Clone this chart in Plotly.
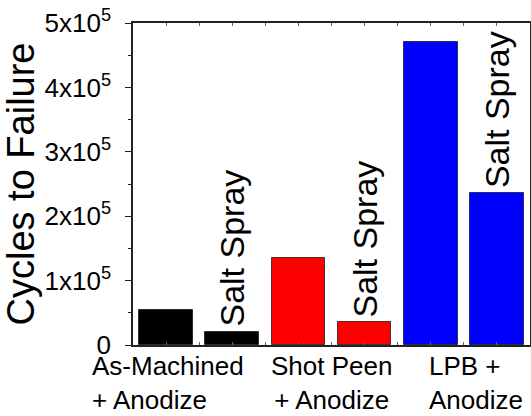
import plotly.graph_objects as go

# ---- data ----
bar_names = ["As-Machined + Anodize", "As-Machined + Anodize, Salt Spray",
             "Shot Peen + Anodize", "Shot Peen + Anodize, Salt Spray",
             "LPB + Anodize", "LPB + Anodize, Salt Spray"]
cycles = [55000, 20500, 135500, 35000, 471000, 236500]
bar_colors = ["#000000", "#000000", "#ff0000", "#ff0000", "#0000ff", "#0000ff"]
salt_spray_label = "Salt Spray"
salt_spray_bars = [1, 3, 5]
group_labels = ["As-Machined<br>+ Anodize", "Shot Peen<br>+ Anodize", "LPB +<br>Anodize"]
y_tickvals = [0, 100000, 200000, 300000, 400000, 500000]
y_ticktext = ["0", "1x10<sup>5</sup>", "2x10<sup>5</sup>", "3x10<sup>5</sup>",
              "4x10<sup>5</sup>", "5x10<sup>5</sup>"]
y_title = "Cycles to Failure"

FONT = "Liberation Sans, Arial, sans-serif"
xs = list(range(len(cycles)))

fig = go.Figure()
fig.add_trace(go.Bar(
    x=xs, y=cycles, width=0.81,
    marker=dict(color=bar_colors, line=dict(color="rgba(0,0,0,0.65)", width=1)),
    hovertext=bar_names, showlegend=False,
))

# Salt Spray labels above bars
for i in salt_spray_bars:
    fig.add_annotation(x=xs[i], y=cycles[i], xref="x", yref="y",
                       text=salt_spray_label, textangle=-90, showarrow=False,
                       xanchor="center", yanchor="bottom", yshift=3,
                       font=dict(family=FONT, size=34, color="black"))

# group labels under the axis (paper coordinates)
label_pos = [(-0.108, "left", "left"), (0.5, "center", "center"), (0.74, "left", "left")]
for txt, (xp, xa, al) in zip(group_labels, label_pos):
    fig.add_annotation(x=xp, y=0, xref="paper", yref="paper", text=txt,
                       showarrow=False, xanchor=xa, yanchor="top", align=al,
                       yshift=-4,
                       font=dict(family=FONT, size=26, color="black"))

fig.update_layout(
    width=531, height=416,
    margin=dict(l=133, r=1, t=23, b=71),
    plot_bgcolor="white", paper_bgcolor="white",
    font=dict(family=FONT, color="black"),
    bargap=0,
    xaxis=dict(range=[-0.5, 5.5], showticklabels=False, showgrid=False,
               automargin=False,
               zeroline=False, showline=True, linecolor="#222", linewidth=1.5,
               mirror="allticks", ticks="inside", ticklen=3, tickcolor="#666",
               tickmode="linear", tick0=-0.5, dtick=0.5),
    yaxis=dict(range=[0, 500000], tickmode="array", tickvals=y_tickvals,
               automargin=False,
               ticktext=y_ticktext, showgrid=False, zeroline=False,
               showline=True, linecolor="#222", linewidth=1.5, mirror=True,
               ticks="outside", ticklen=6, tickcolor="#222",
               ticklabelstandoff=9,
               tickfont=dict(family=FONT, size=26, color="black"),
               minor=dict(ticks="outside", ticklen=3, tickmode="linear",
                          tick0=0, dtick=50000, tickcolor="#222"),
               title=dict(text=y_title, standoff=0,
                          font=dict(family=FONT, size=38, color="black"))),
)

fig.write_html("out.html", config={"displayModeBar": False},
               post_script="document.body.style.margin='0';")
